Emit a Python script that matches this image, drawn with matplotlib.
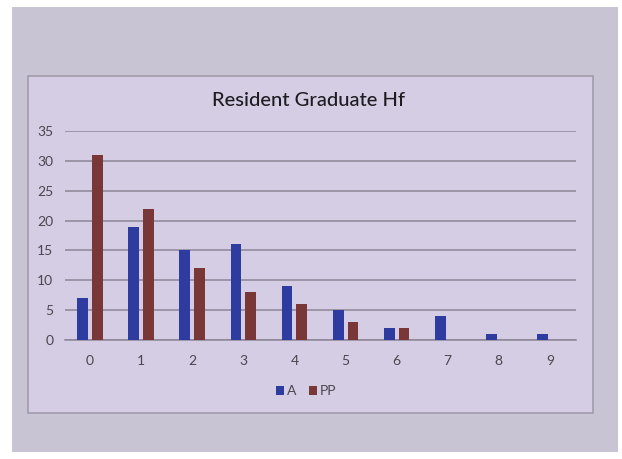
import matplotlib
matplotlib.use("Agg")
import matplotlib.pyplot as plt
from matplotlib.patches import Rectangle
import numpy as np

categories = ["0", "1", "2", "3", "4", "5", "6", "7", "8", "9"]
a_values = [7, 19, 15, 16, 9, 5, 2, 4, 1, 1]
pp_values = [31, 22, 12, 8, 6, 3, 2, 0, 0, 0]
y_ticks = [0, 5, 10, 15, 20, 25, 30, 35]

W, H = 622, 459
fig = plt.figure(figsize=(W / 100, H / 100), dpi=100, facecolor="white")

# photo of the screen and the chart frame, in pixel coordinates
def px_rect(x0, y0, x1, y1, **kw):
    return Rectangle((x0 / W, 1 - y1 / H), (x1 - x0) / W, (y1 - y0) / H,
                     transform=fig.transFigure, figure=fig, **kw)

fig.patches.append(px_rect(12, 7, 618, 452, facecolor="#c9c4d3", edgecolor="none", zorder=-2))
fig.patches.append(px_rect(28, 76, 593, 413, facecolor="#d5cde3", edgecolor="#a19bab",
                           linewidth=1.2, zorder=-1))

ax = fig.add_axes([64.5 / W, 1 - 340 / H, (575.5 - 64.5) / W, (340 - 131) / H])
ax.set_zorder(5)
ax.set_facecolor("none")

x = np.arange(len(categories))
w = 0.21
ax.bar(x - 0.145, a_values, width=w, color="#2d3c9e", label="A", zorder=3)
ax.bar(x + 0.145, pp_values, width=w, color="#7a3737", label="PP", zorder=3)

ax.set_xlim(-0.5, len(categories) - 0.5)
ax.set_ylim(0, 35)
ax.set_yticks(y_ticks)
ax.set_xticks(x)
ax.set_xticklabels(categories)
ax.yaxis.grid(True, color="#8c8698", linewidth=1.1, zorder=0)
ax.set_axisbelow(True)
for s in ["top", "right", "left"]:
    ax.spines[s].set_visible(False)
ax.spines["bottom"].set_color("#8c8698")
ax.spines["bottom"].set_linewidth(1.1)
ax.tick_params(length=0, labelsize=10, colors="#4a4650", pad=8)
ax.tick_params(axis="x", pad=11)
for lab in ax.get_xticklabels() + ax.get_yticklabels():
    lab.set_family("Lato")

fig.text(308 / W, 1 - 101 / H, "Resident Graduate Hf", ha="center", va="center",
         fontsize=14.5, family="Lato", weight="medium", color="#1e1c22", zorder=6)

leg = ax.legend(loc="center", bbox_to_anchor=(0.473, -0.245), ncol=2, frameon=False,
                handlelength=0.6, handleheight=0.6, handletextpad=0.2, columnspacing=0.9,
                prop={"family": "Lato", "size": 10})
for t in leg.get_texts():
    t.set_color("#4a4650")

fig.savefig("out.png", dpi=100)
